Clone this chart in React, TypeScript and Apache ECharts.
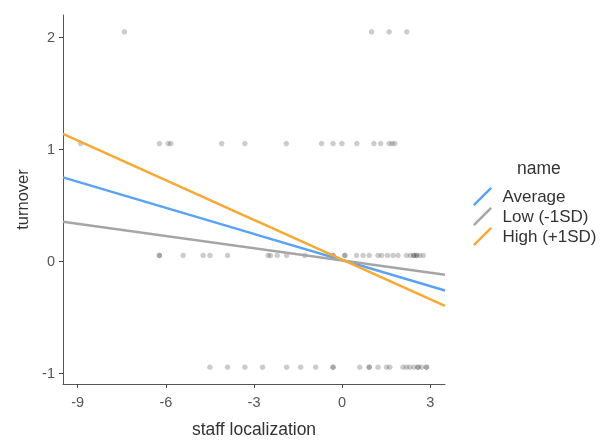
import React, { useEffect, useRef } from "react";
import * as echarts from "echarts";

const xTicks = [-9, -6, -3, 0, 3];
const yTicks = [-1, 0, 1, 2];
const lineX = [-9.5, 3.5];
const averageLine = [0.748, -0.264];
const lowLine = [0.352, -0.123];
const highLine = [1.137, -0.402];

const rowY = [2.05, 1.05, 0.05, -0.95];
const row2 = [-7.41, 1.0, 1.6, 2.2];
const row1 = [-8.9, -6.22, -5.92, -5.83, -4.1, -3.31, -1.9, -0.7, -0.31, -0.01, 0.5, 1.08, 1.31, 1.6, 1.7, 1.79];
const row0 = [-6.22, -6.22, -5.41, -4.73, -4.5, -3.9, -2.52, -2.44, -2.21, -1.89, -1.27, -0.31, -0.31, 0.09, 0.09, 0.49, 0.71, 0.92, 1.22, 1.34, 1.54, 1.73, 1.9, 2.19, 2.33, 2.44, 2.44, 2.53, 2.53, 2.64, 2.76];
const rowM1 = [-4.5, -3.9, -3.31, -2.71, -1.89, -1.41, -0.9, -0.31, -0.31, 0.6, 0.92, 0.92, 1.22, 1.51, 1.62, 2.07, 2.19, 2.3, 2.44, 2.58, 2.58, 2.7, 2.87, 2.87];

const seriesNames = ["Average", "Low (-1SD)", "High (+1SD)"];
const colors = ["#5AA2F2", "#A5A5A5", "#F8A935"];

const FONT = "'Liberation Sans', Arial, sans-serif";

export default function App() {
  const ref = useRef<HTMLDivElement>(null);
  useEffect(() => {
    if (!ref.current) return;
    const chart = echarts.init(ref.current, undefined, { renderer: "svg" });
    const points: number[][] = [];
    [row2, row1, row0, rowM1].forEach((row, i) => row.forEach((x) => points.push([x, rowY[i]])));
    const lines = [averageLine, lowLine, highLine];
    const icon = "path://M0,18.2 L18.2,0 L20,1.8 L1.8,20 Z";
    chart.setOption({
      animation: false,
      textStyle: { fontFamily: FONT },
      grid: { left: 63, right: 158, top: 15, bottom: 52 },
      xAxis: {
        type: "value",
        min: -9.5,
        max: 3.5,
        name: "staff localization",
        nameLocation: "middle",
        nameGap: 36,
        nameTextStyle: { fontSize: 17.5, color: "#333", fontFamily: FONT },
        splitLine: { show: false },
        axisLine: { show: true, onZero: false, lineStyle: { color: "#555", width: 1 } },
        axisTick: { show: true, length: 4, customValues: xTicks, lineStyle: { color: "#444" } },
        axisLabel: { customValues: xTicks, fontSize: 14.5, color: "#555", margin: 10, fontFamily: FONT },
      },
      yAxis: {
        type: "value",
        min: -1.1,
        max: 2.2,
        name: "turnover",
        nameLocation: "middle",
        nameGap: 33,
        nameTextStyle: { fontSize: 16.5, color: "#333", fontFamily: FONT },
        splitLine: { show: false },
        axisLine: { show: true, onZero: false, lineStyle: { color: "#555", width: 1 } },
        axisTick: { show: true, length: 4, customValues: yTicks, lineStyle: { color: "#444" } },
        axisLabel: { customValues: yTicks, fontSize: 14.5, color: "#555", margin: 8, fontFamily: FONT },
      },
      legend: {
        orient: "vertical",
        left: 468,
        top: 182,
        itemWidth: 20,
        itemHeight: 19,
        itemGap: 1,
        textStyle: { fontSize: 17, color: "#333", fontFamily: FONT, padding: [0, 0, 0, 5] },
        data: seriesNames.map((n) => ({ name: n, icon })),
      },
      graphic: [
        {
          type: "text",
          left: 517,
          top: 159,
          style: { text: "name", fontSize: 17.5, fill: "#333", fontFamily: FONT },
        },
      ],
      series: [
        {
          type: "scatter",
          data: points,
          symbolSize: 5.5,
          itemStyle: { color: "rgba(60,60,60,0.33)" },
          z: 1,
          silent: true,
        },
        ...seriesNames.map((n, i) => ({
          type: "line",
          name: n,
          data: lineX.map((x, j) => [x, lines[i][j]]),
          color: colors[i],
          showSymbol: false,
          lineStyle: { width: 2.5, color: colors[i] },
          itemStyle: { color: colors[i] },
          z: 3,
        })),
      ],
    });
    return () => chart.dispose();
  }, []);
  return <div ref={ref} style={{ position: "fixed", left: 0, top: 0, width: 603, height: 443 }} />;
}
